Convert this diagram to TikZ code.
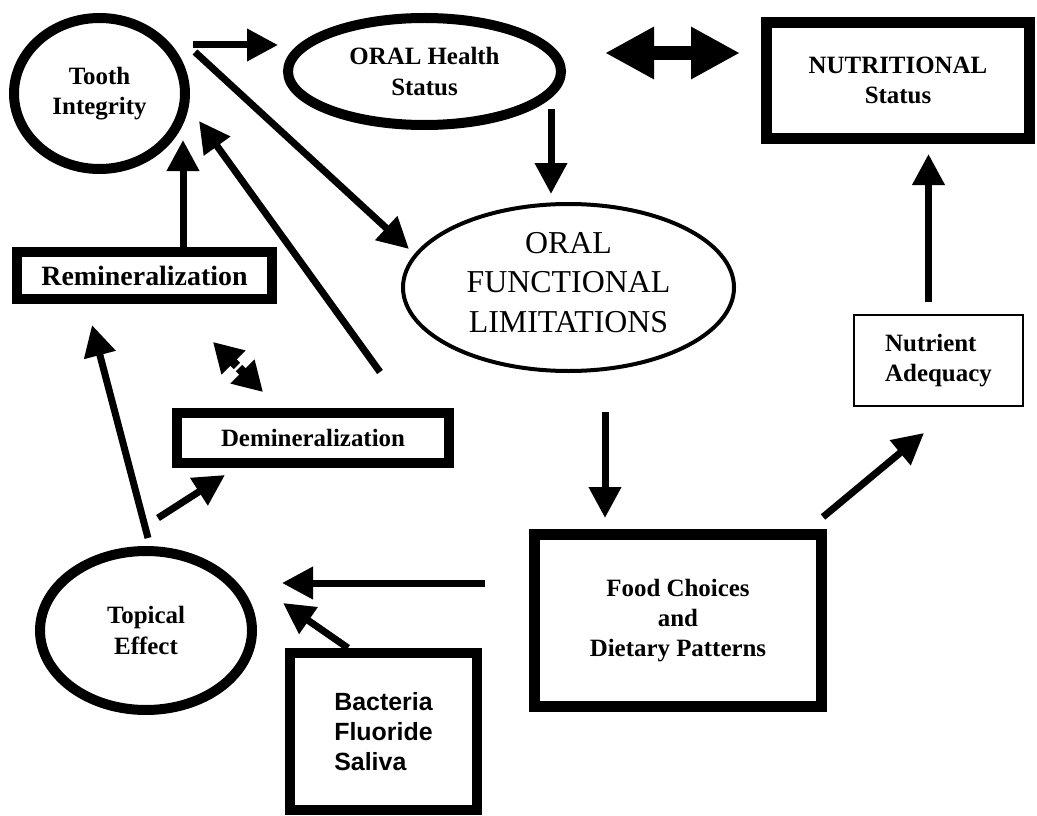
\documentclass[tikz,border=0pt]{standalone}
\usepackage{fontspec}
\setmainfont{Liberation Serif}
\newfontfamily\bsans{Liberation Sans}
\usetikzlibrary{arrows.meta,shapes.geometric,calc}
\begin{document}
\begin{tikzpicture}[x=1bp,y=-1bp,
  lab/.style={font=\bfseries\fontsize{25}{30.5}\selectfont, align=center},
  bigell/.style={ellipse, draw, line width=10bp, inner sep=0pt, lab},
  thinell/.style={ellipse, draw, line width=4bp, inner sep=0pt},
  boxed/.style={rectangle, draw, inner sep=0pt, lab},
  arr/.style={line width=7bp, -{Triangle[length=31bp,width=31bp]}},
  dblarr/.style={line width=14bp, {Triangle[length=49bp,width=49bp]}-{Triangle[length=49bp,width=49bp]}},
  smalldbl/.style={line width=9bp, {Triangle[length=29bp,width=32bp]}-{Triangle[length=29bp,width=32bp]}}
]
\useasboundingbox (0,0) rectangle (1037,816);

% nodes
\node[bigell, minimum width=171bp, minimum height=151bp] (tooth) at (99.5,93.5) {Tooth\\Integrity};
\node[bigell, minimum width=273bp, minimum height=107bp] (health) at (424.5,71.5) {ORAL Health\\Status};
\node[thinell, minimum width=331bp, minimum height=167bp] (func) at (568.5,287.5) {};
\node[align=center, font=\fontsize{32}{39.5}\selectfont] (functext) at (568.5,282.5) {ORAL\\FUNCTIONAL\\LIMITATIONS};
\node[bigell, minimum width=212bp, minimum height=159bp] (topical) at (146,630.5) {Topical\\Effect};
\node[boxed, line width=11bp, minimum width=263bp, minimum height=116bp] (nutri) at (898,80.5) {NUTRITIONAL\\Status};
\node[boxed, line width=11bp, minimum width=287bp, minimum height=172bp] (food) at (678,620.5) {Food Choices\\and\\Dietary Patterns};
\node[boxed, line width=10bp, minimum width=272bp, minimum height=50bp] (demin) at (313,438) {Demineralization};
\node[boxed, line width=10bp, minimum width=255bp, minimum height=47bp, font=\bfseries\fontsize{28}{32}\selectfont] (remin) at (144.5,275.5) {Remineralization};
\node[boxed, line width=10bp, minimum width=187bp, minimum height=157bp, align=left, font=\bsans\bfseries\fontsize{25}{30}\selectfont] (bact) at (383.5,731.5) {Bacteria\\Fluoride\\Saliva};
\node[boxed, line width=2bp, minimum width=169bp, minimum height=91bp, align=left] (nadeq) at (938.5,360.5) {Nutrient\\Adequacy};

% connector end points
\coordinate (toothA) at (193,45);   \coordinate (healthA) at (278,45);
\coordinate (toothB) at (195,52);   \coordinate (funcB) at (409,249);
\coordinate (healthC) at (551,109); \coordinate (funcC) at (551,194);
\coordinate (healthD) at (605,53);  \coordinate (nutriD) at (740,53);
\coordinate (nadeqE) at (928.5,302); \coordinate (nutriE) at (928.5,154);
\coordinate (funcF) at (605,412);   \coordinate (foodF) at (605,518);
\coordinate (foodG) at (823,517);   \coordinate (nadeqG) at (924,433);
\coordinate (foodH) at (485,583);   \coordinate (topicalH) at (282,583);
\coordinate (bactI) at (348,648);   \coordinate (topicalI) at (283,603);
\coordinate (topicalJ) at (148,538); \coordinate (reminJ) at (92,325);
\coordinate (topicalK) at (158,518); \coordinate (deminK) at (225,475);
\coordinate (reminL) at (183,247);  \coordinate (toothL) at (183,140);
\coordinate (funcM) at (380,372);   \coordinate (toothM) at (199,121);
\coordinate (reminN) at (213,342);  \coordinate (deminN) at (263,392);

% connectors
\draw[arr] (toothA) -- (healthA);
\draw[arr] (toothB) -- (funcB);
\draw[arr] (healthC) -- (funcC);
\draw[dblarr] (healthD) -- (nutriD);
\draw[arr] (nadeqE) -- (nutriE);
\draw[arr] (funcF) -- (foodF);
\draw[arr] (foodG) -- (nadeqG);
\draw[arr] (foodH) -- (topicalH);
\draw[arr] (bactI) -- (topicalI);
\draw[arr] (topicalJ) -- (reminJ);
\draw[arr] (topicalK) -- (deminK);
\draw[arr] (reminL) -- (toothL);
\draw[arr] (funcM) -- (toothM);
\draw[smalldbl] (reminN) -- (deminN);
\draw[white, line width=2.5bp] ($(reminN)!0.5!(deminN)+(-7,7)$) -- ($(reminN)!0.5!(deminN)+(7,-7)$);
\end{tikzpicture}
\end{document}
